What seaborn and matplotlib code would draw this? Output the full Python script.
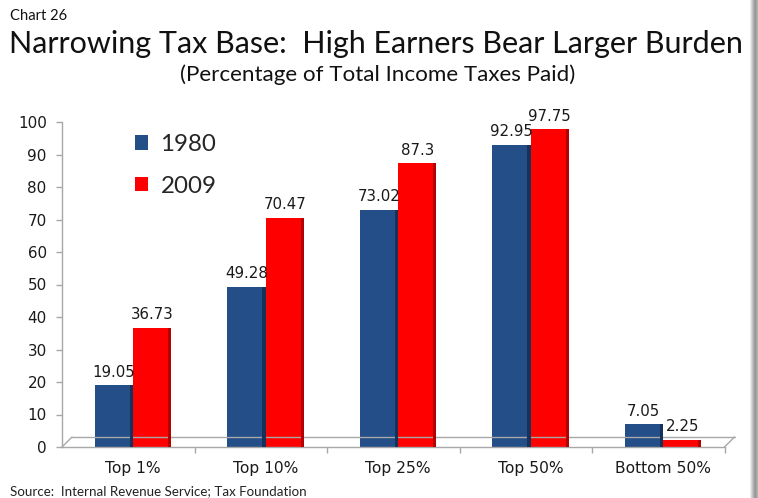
import matplotlib
matplotlib.use("Agg")
import matplotlib.pyplot as plt
import matplotlib.transforms as mtransforms
from matplotlib.patches import Rectangle
from matplotlib.lines import Line2D
import pandas as pd
import seaborn as sns

categories = ["Top 1%", "Top 10%", "Top 25%", "Top 50%", "Bottom 50%"]
years = ["1980", "2009"]
share_1980 = [19.05, 49.28, 73.02, 92.95, 7.05]
share_2009 = [36.73, 70.47, 87.3, 97.75, 2.25]
y_ticks = [0, 10, 20, 30, 40, 50, 60, 70, 80, 90, 100]

colors = {"1980": "#244E87", "2009": "#FF0000"}
side_colors = {"1980": "#16325A", "2009": "#B40000"}

df = pd.DataFrame({
    "group": categories * 2,
    "year": [years[0]] * len(categories) + [years[1]] * len(categories),
    "share": share_1980 + share_2009,
})

sns.set_theme(style="white")
plt.rcParams["font.family"] = ["DejaVu Sans"]

W, H = 758, 498
fig = plt.figure(figsize=(W / 100, H / 100), dpi=100)
fig.patch.set_facecolor("white")

ax_left, ax_right, ax_bottom, ax_top = 62, 724.5, 447, 122
ax = fig.add_axes([ax_left / W, 1 - ax_bottom / H,
                   (ax_right - ax_left) / W, (ax_bottom - ax_top) / H])

sns.barplot(data=df, x="group", y="share", hue="year", order=categories,
            hue_order=years, palette=colors, width=0.58, gap=0,
            saturation=1, linewidth=0, edgecolor="none", ax=ax, legend=False)

ax.set_xlim(-0.536, 4.464)
ax.set_ylim(0, 100)
ax.set_yticks(y_ticks)
ax.set_xlabel("")
ax.set_ylabel("")

grey = "#A8A8A8"
for s in ["top", "right"]:
    ax.spines[s].set_visible(False)
ax.spines["left"].set_color(grey)
ax.spines["bottom"].set_color(grey)
ax.spines["left"].set_linewidth(1)
ax.spines["bottom"].set_linewidth(1)

ax.tick_params(axis="y", left=True, length=4, width=1, color=grey, pad=7,
               labelsize=10.9, labelcolor="#1a1a1a")
ax.tick_params(axis="x", which="major", bottom=False, length=0, pad=10,
               labelsize=11.2, labelcolor="#1a1a1a")
ax.set_xticks([k - 0.536 for k in range(1, 6)], minor=True)
ax.tick_params(axis="x", which="minor", bottom=True, length=4, width=1, color=grey)

# perspective floor: back edge and the two slanted ends
shift = mtransforms.ScaledTranslation(10 / 100, 10 / 100, fig.dpi_scale_trans)
back = ax.transAxes + shift
ax.add_line(Line2D([0, 1], [0, 0], transform=back, color=grey, lw=1, clip_on=False))
for xa in (0, 1):
    p0 = ax.transAxes.transform((xa, 0))
    p1 = back.transform((xa, 0))
    ax.add_line(Line2D([p0[0], p1[0]], [p0[1], p1[1]], transform=None,
                       color=grey, lw=1, clip_on=False))

# shaded side face and value labels on each bar
for cont, yr, vals in zip(ax.containers, years, [share_1980, share_2009]):
    for patch, v in zip(cont.patches, vals):
        x0 = patch.get_x()
        w = patch.get_width()
        h = patch.get_height()
        ax.add_patch(Rectangle((x0 + w * 0.92, 0), w * 0.08, h,
                               facecolor=side_colors[yr], edgecolor="none", zorder=3))
        ax.annotate(f"{v:g}", (x0 + w / 2, h), xytext=(0, 4),
                    textcoords="offset points", ha="center", va="bottom",
                    fontsize=10.8, color="#1a1a1a")

handles = [Rectangle((0, 0), 1, 1, facecolor=colors[y], edgecolor="none") for y in years]
ax.legend(handles, years, loc="upper left", bbox_to_anchor=(135 / W, 1 - 134 / H),
          bbox_transform=fig.transFigure, frameon=False,
          prop={"family": "Lato", "size": 17.4}, handlelength=0.55,
          handleheight=0.55, handletextpad=0.5, labelspacing=0.85,
          borderpad=0, borderaxespad=0)

fig.text(10 / W, 1 - 16 / H, "Chart 26", family="Lato", fontsize=10.6,
         ha="left", va="center", color="#111111")
fig.text(376 / W, 1 - 44 / H, "Narrowing Tax Base:  High Earners Bear Larger Burden",
         family="Lato", fontsize=22, ha="center", va="center", color="#111111")
fig.text(378 / W, 1 - 75 / H, "(Percentage of Total Income Taxes Paid)",
         family="Lato", fontsize=16.1, ha="center", va="center", color="#111111")
fig.text(10 / W, 1 - 491 / H, "Source:  Internal Revenue Service; Tax Foundation",
         family="Lato", fontsize=9.65, ha="left", va="center", color="#222222")

# soft grey frame on the right edge
shades = ["#ECECEC", "#D8D8D8", "#C4C4C4", "#B0B0B0", "#A0A0A0", "#989898",
          "#A4A4A4", "#B4B4B4"]
for i, c in enumerate(shades):
    fig.add_artist(Rectangle(((750 + i) / W, 0), 1 / W, 1, transform=fig.transFigure,
                             facecolor=c, edgecolor="none"))

fig.savefig("out.png", dpi=100)
